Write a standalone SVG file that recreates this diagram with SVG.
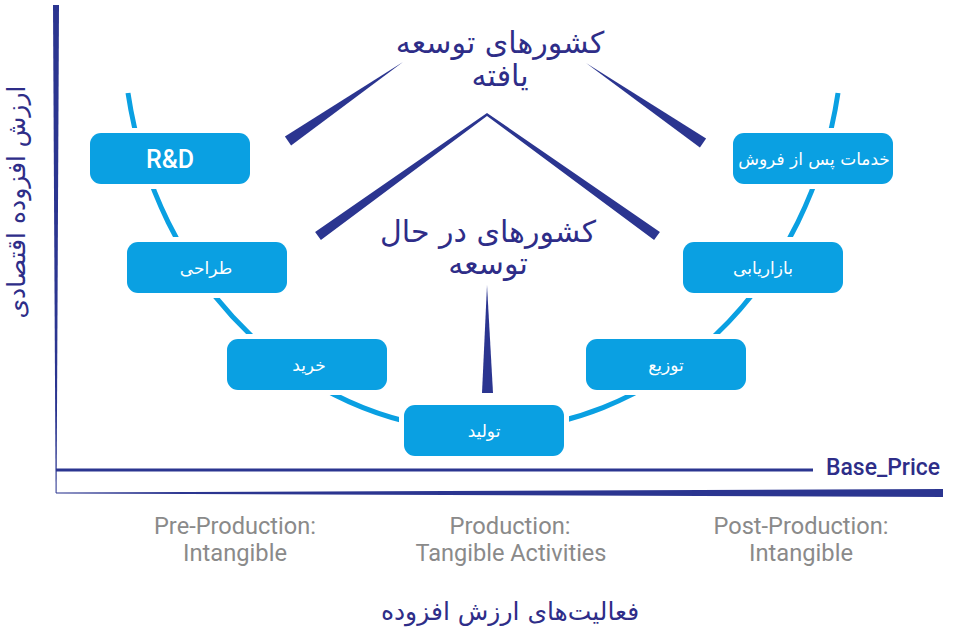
<svg xmlns="http://www.w3.org/2000/svg" width="960" height="640" viewBox="0 0 960 640">
<style>
.box{fill:#0aa0e2;stroke:#ffffff;stroke-width:10;paint-order:stroke}
.bt{font-family:"DejaVu Sans","Noto Sans",sans-serif;font-size:17px;fill:#ffffff;text-anchor:middle}
.dk{fill:#2b3590}
.fa{font-family:"DejaVu Sans","Noto Sans",sans-serif;fill:#2e2d88;text-anchor:middle}
.en{font-family:Roboto,"Liberation Sans",sans-serif;fill:#8a8a8a;font-size:23px;text-anchor:middle}
</style>
<rect width="960" height="640" fill="#ffffff"/>
<g id="axes">
  <polygon class="dk" points="53,5 59,5 56.6,493 55.6,493"/>
  <polygon class="dk" points="56,492.6 943,489 943,497 56,493.6"/>
  <line x1="56" y1="470" x2="813" y2="470" stroke="#2b3590" stroke-width="3"/>
  <text x="826" y="475" font-family="Roboto,'Liberation Sans',sans-serif" font-size="23" font-weight="500" fill="#2e2d88" textLength="114" lengthAdjust="spacingAndGlyphs">Base_Price</text>
  <text class="fa" font-size="25" transform="translate(25,202) rotate(-90)">ارزش افزوده اقتصادی</text>
  <text class="fa" x="510" y="620" font-size="25">فعالیت‌های ارزش افزوده</text>
</g>
<g id="connectors">
  <path d="M128,93 A360,405 0 0 0 838,93" fill="none" stroke="#0aa0e2" stroke-width="5"/>
</g>
<g id="pointers">
  <polygon class="dk" points="403,62 291.1,145.5 284.9,136.5"/>
  <polygon class="dk" points="586,63 706.1,138.5 699.9,147.5"/>
  <polygon class="dk" points="487,113 659.9,231.9 654.1,240.1 487,116 320.9,240.1 315.1,231.9"/>
  <polygon class="dk" points="487,285 493,393 482,393"/>
</g>
<g id="labels">
  <text class="fa" x="500" y="53" font-size="30">کشورهای  توسعه</text>
  <text class="fa" x="500" y="86" font-size="30">یافته</text>
  <text class="fa" x="488" y="242" font-size="30">کشورهای در حال</text>
  <text class="fa" x="488" y="274" font-size="30">توسعه</text>
</g>
<g id="node-rd">
  <rect class="box" x="90" y="133" width="160" height="51" rx="11"/>
  <text x="170" y="168" font-family="Roboto,'Liberation Sans',sans-serif" font-size="25" font-weight="500" fill="#ffffff" text-anchor="middle">R&amp;D</text>
</g>
<g id="node-design">
  <rect class="box" x="127" y="242" width="160" height="51" rx="11"/>
  <text class="bt" x="206" y="274">طراحی</text>
</g>
<g id="node-purchase">
  <rect class="box" x="227" y="339" width="160" height="51" rx="11"/>
  <text class="bt" x="309" y="371">خرید</text>
</g>
<g id="node-production">
  <rect class="box" x="404" y="405" width="160" height="51" rx="11"/>
  <text class="bt" x="484" y="437">تولید</text>
</g>
<g id="node-distribution">
  <rect class="box" x="586" y="339" width="160" height="51" rx="11"/>
  <text class="bt" x="666" y="371">توزیع</text>
</g>
<g id="node-marketing">
  <rect class="box" x="683" y="242" width="160" height="51" rx="11"/>
  <text class="bt" x="763" y="274">بازاریابی</text>
</g>
<g id="node-aftersales">
  <rect class="box" x="733" y="133" width="160" height="51" rx="11"/>
  <text class="bt" x="814" y="165">خدمات پس از فروش</text>
</g>
<g id="phases">
  <text class="en" x="235" y="534" textLength="162" lengthAdjust="spacingAndGlyphs">Pre-Production:</text>
  <text class="en" x="235" y="561" textLength="104" lengthAdjust="spacingAndGlyphs">Intangible</text>
  <text class="en" x="510" y="534" textLength="121" lengthAdjust="spacingAndGlyphs">Production:</text>
  <text class="en" x="511" y="561" textLength="191" lengthAdjust="spacingAndGlyphs">Tangible Activities</text>
  <text class="en" x="801" y="534" textLength="175" lengthAdjust="spacingAndGlyphs">Post-Production:</text>
  <text class="en" x="801" y="561" textLength="104" lengthAdjust="spacingAndGlyphs">Intangible</text>
</g>
</svg>
